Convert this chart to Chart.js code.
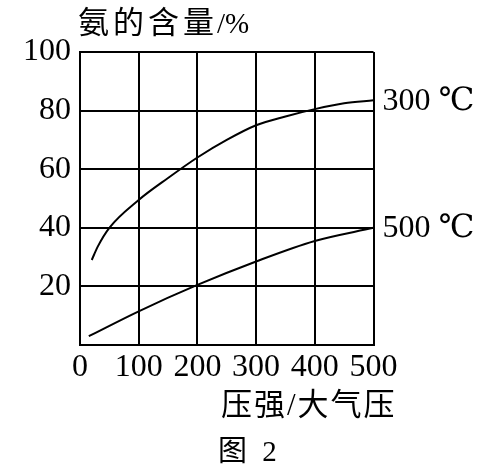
<!DOCTYPE html>
<html><head><meta charset="utf-8">
<script src="https://cdn.jsdelivr.net/npm/chart.js@4"></script>
<style>html,body{margin:0;padding:0;background:#fff}#w{width:498px;height:473px}</style>
</head><body><div id="w"><canvas id="c"></canvas></div>
<script>
const pressure300 = [20, 30, 50, 100, 150, 200, 250, 300, 350, 400, 450, 500];
const content300  = [29, 33.5, 40, 49.5, 57, 64, 70, 75, 78, 80.5, 82.5, 83.5];
const pressure500 = [15, 100, 200, 300, 400, 500];
const content500  = [3, 11.5, 20.5, 28.5, 35.5, 40];
const xTicks = [0, 100, 200, 300, 400, 500];
const yTicks = [20, 40, 60, 80, 100];
const seriesLabels = ['300 ℃', '500 ℃'];
const yTitleName = '氨的含量';
const yTitleUnit = '/%';
const xTitle = '压强/大气压';
const figCaption = '图 2';

const toPts = (xs, ys) => xs.map((x, i) => ({x, y: ys[i]}));
const serif = '"Liberation Serif", "DejaVu Serif", "Noto Sans CJK SC", serif';

const textPlugin = {
  id: 'texts',
  afterDraw(chart) {
    const ctx = chart.ctx, a = chart.chartArea;
    const ys = chart.scales.y;
    ctx.save();
    ctx.fillStyle = '#000';
    ctx.textBaseline = 'middle';
    ctx.textAlign = 'left';
    ctx.letterSpacing = '4px';
    ctx.font = '31px ' + serif;
    ctx.fillText(yTitleName, a.left - 2, 25);
    ctx.letterSpacing = '0px';
    ctx.font = '29px ' + serif;
    ctx.fillText(yTitleUnit, 217, 25);
    ctx.letterSpacing = '2px';
    ctx.font = '31px ' + serif;
    ctx.fillText(xTitle, 221, 407);
    ctx.letterSpacing = '4px';
    ctx.font = '29px ' + serif;
    ctx.fillText(figCaption, 218, 453);
    ctx.letterSpacing = '0px';
    ctx.font = '32px ' + serif;
    const ends = [content300[content300.length-1], content500[content500.length-1]];
    seriesLabels.forEach((t, i) => {
      ctx.fillText(t, a.right + 9, ys.getPixelForValue(ends[i]) + 1);
    });
    ctx.restore();
  }
};

new Chart(document.getElementById('c'), {
  type: 'scatter',
  data: {
    datasets: [
      {data: toPts(pressure300, content300), showLine: true, borderColor: '#000', borderWidth: 2, pointRadius: 0, cubicInterpolationMode: 'monotone'},
      {data: toPts(pressure500, content500), showLine: true, borderColor: '#000', borderWidth: 2, pointRadius: 0, cubicInterpolationMode: 'monotone'}
    ]
  },
  options: {
    responsive: true, maintainAspectRatio: false, animation: false,
    layout: {padding: {left: 0, top: 52, right: 124.5, bottom: 0}},
    plugins: {legend: {display: false}, tooltip: {enabled: false}},
    scales: {
      x: {
        type: 'linear', min: 0, max: 500,
        afterBuildTicks: s => { s.ticks = xTicks.map(v => ({value: v})); },
        afterFit: s => { s.height = 128; },
        grid: {color: '#000', lineWidth: 2, drawTicks: false},
        border: {color: '#000', width: 2},
        ticks: {color: '#000', font: {family: serif, size: 32}, padding: 3, maxRotation: 0, autoSkip: false}
      },
      y: {
        type: 'linear', min: 0, max: 100,
        afterBuildTicks: s => { s.ticks = [0, ...yTicks].map(v => ({value: v})); },
        afterFit: s => { s.width = 80; },
        grid: {color: '#000', lineWidth: 2, drawTicks: false},
        border: {color: '#000', width: 2},
        ticks: {color: '#000', font: {family: serif, size: 32}, padding: 9,
          callback: v => v === 0 ? '' : String(v)}
      }
    }
  },
  plugins: [textPlugin]
});
</script></body></html>
